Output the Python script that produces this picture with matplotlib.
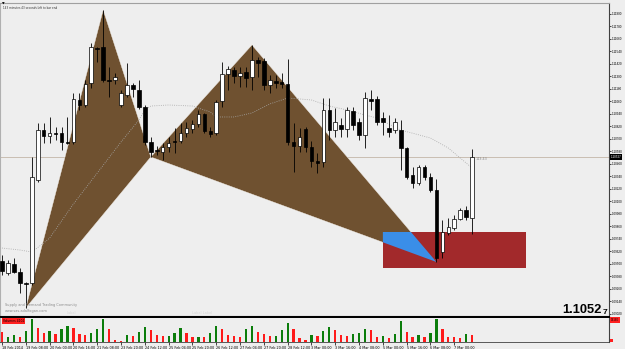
import matplotlib.pyplot as plt
from matplotlib.patches import Polygon, Rectangle

# 4H candles, 18 Feb 2014 - 7 Mar 2014
opens = [1.09528, 1.09413, 1.09500, 1.09422, 1.09317, 1.09317, 1.10306, 1.10786, 1.10728, 1.10757,
         1.10757, 1.10671, 1.10671, 1.11074, 1.11026, 1.11237, 1.11573, 1.11583, 1.11266, 1.11266,
         1.11026, 1.11122, 1.11218, 1.11170, 1.11007, 1.10671, 1.10594, 1.10575, 1.10623, 1.10680,
         1.10680, 1.10757, 1.10796, 1.10844, 1.10940, 1.10776, 1.10757, 1.11064, 1.11324, 1.11362,
         1.11304, 1.11343, 1.11295, 1.11458, 1.11448, 1.11218, 1.11256, 1.11247, 1.11228, 1.10671,
         1.10632, 1.10796, 1.10623, 1.10488, 1.10479, 1.10978, 1.10786, 1.10834, 1.10796, 1.10968,
         1.10863, 1.10738, 1.11084, 1.11084, 1.10901, 1.10805, 1.10786, 1.10786, 1.10613, 1.10354,
         1.10278, 1.10431, 1.10335, 1.10210, 1.09615, 1.09798, 1.09846, 1.09932, 1.10018, 1.09941]
highs = [1.09586, 1.09538, 1.09557, 1.09461, 1.09327, 1.10527, 1.10853, 1.10853, 1.10911, 1.10815,
         1.10815, 1.10911, 1.11141, 1.11141, 1.11266, 1.11621, 1.11583, 1.11938, 1.11391, 1.11333,
         1.11170, 1.11429, 1.11237, 1.11266, 1.11026, 1.10719, 1.10632, 1.10661, 1.10719, 1.10805,
         1.10853, 1.10863, 1.10882, 1.10978, 1.10949, 1.10815, 1.11074, 1.11439, 1.11400, 1.11391,
         1.11391, 1.11391, 1.11602, 1.11487, 1.11477, 1.11314, 1.11314, 1.11333, 1.11468, 1.10853,
         1.10805, 1.10815, 1.10680, 1.10565, 1.11093, 1.11093, 1.10997, 1.10901, 1.11007, 1.11007,
         1.10901, 1.11151, 1.11170, 1.11112, 1.10959, 1.10930, 1.10901, 1.10882, 1.10623, 1.10431,
         1.10450, 1.10450, 1.10373, 1.10316, 1.09922, 1.09941, 1.09970, 1.10038, 1.10058, 1.10604]
lows = [1.09394, 1.09394, 1.09413, 1.09222, 1.09078, 1.09298, 1.10287, 1.10661, 1.10661, 1.10690,
        1.10594, 1.10652, 1.10652, 1.10978, 1.11007, 1.11189, 1.11439, 1.11247, 1.11103, 1.11228,
        1.11007, 1.11103, 1.11103, 1.10988, 1.10642, 1.10527, 1.10546, 1.10498, 1.10575, 1.10565,
        1.10661, 1.10719, 1.10757, 1.10815, 1.10757, 1.10719, 1.10738, 1.11007, 1.11170, 1.11237,
        1.11199, 1.11199, 1.11170, 1.11295, 1.11170, 1.11141, 1.11189, 1.11189, 1.10642, 1.10383,
        1.10575, 1.10575, 1.10431, 1.10373, 1.10431, 1.10690, 1.10719, 1.10719, 1.10719, 1.10786,
        1.10690, 1.10613, 1.10978, 1.10834, 1.10738, 1.10719, 1.10757, 1.10402, 1.10316, 1.10230,
        1.10258, 1.10306, 1.10191, 1.09519, 1.09557, 1.09778, 1.09826, 1.09922, 1.09922, 1.09788]
closes = [1.09432, 1.09509, 1.09422, 1.09317, 1.09308, 1.10335, 1.10786, 1.10728, 1.10757, 1.10748,
          1.10671, 1.10661, 1.11084, 1.11026, 1.11228, 1.11583, 1.11564, 1.11266, 1.11256, 1.11295,
          1.11141, 1.11218, 1.11180, 1.11007, 1.10671, 1.10575, 1.10584, 1.10623, 1.10661, 1.10671,
          1.10757, 1.10805, 1.10844, 1.10940, 1.10776, 1.10748, 1.11055, 1.11324, 1.11372, 1.11304,
          1.11333, 1.11285, 1.11458, 1.11429, 1.11218, 1.11266, 1.11237, 1.11228, 1.10671, 1.10632,
          1.10719, 1.10623, 1.10488, 1.10469, 1.10978, 1.10786, 1.10863, 1.10796, 1.10978, 1.10834,
          1.10738, 1.11093, 1.11064, 1.10863, 1.10863, 1.10767, 1.10863, 1.10613, 1.10335, 1.10278,
          1.10431, 1.10335, 1.10210, 1.09557, 1.09807, 1.09855, 1.09932, 1.10018, 1.09951, 1.10527]

volumes = [5900, 2950, 4130, 2950, 6490, 13570, 8260, 5310, 6490, 4720,
           7670, 9440, 8260, 4720, 4130, 5310, 7670, 13570, 7670, 1180,
           590, 4130, 3540, 5900, 8850, 7080, 4130, 3540, 3540, 5310,
           8260, 5310, 2950, 2950, 2950, 5310, 9440, 7670, 4130, 3540,
           2950, 7670, 9440, 5900, 4720, 3540, 3540, 7080, 11210, 7670,
           2360, 1180, 4130, 3540, 6490, 8850, 7080, 4130, 3540, 4720,
           5310, 7670, 7080, 2950, 3540, 2360, 4720, 12390, 5900, 2950,
           4130, 2950, 5310, 13570, 7670, 2950, 2950, 2360, 4720, 4102]
vol_colors = ("rggrggrrgrggrrrgggrrrgrggrrrgggrrgrg"
              "grrrrggrrrgggrrrgrggrrrgggrrgrggrrgrggrrrrgr")

# moving average (read at a few bars)
ma_idx = [0, 3, 5, 7, 8, 12, 16, 20, 23, 24, 25, 28, 32, 35, 36, 39, 42, 45,
          48, 50, 52, 55, 58, 61, 63, 67, 72, 75, 79]
ma_val = [1.09653, 1.09634, 1.09615, 1.09701, 1.09749, 1.10076, 1.10373, 1.10671,
          1.10882, 1.10978, 1.11016, 1.11026, 1.11016, 1.10959, 1.10911, 1.10911,
          1.10949, 1.11036, 1.11093, 1.11084, 1.11074, 1.11016, 1.10978, 1.10930,
          1.10901, 1.10786, 1.10709, 1.10613, 1.10421]

# harmonic pattern points (bar index) and demand zone
x_bar, a_bar, b_bar, c_bar, d_bar = 4, 17, 25, 42, 73
zone_left, zone_right = 64, 88
zone_top, zone_bottom = 1.09807, 1.09461

price_ticks = [1.09020, 1.09140, 1.09260, 1.09380, 1.09500, 1.09620, 1.09740, 1.09860,
               1.09980, 1.10100, 1.10220, 1.10340, 1.10460, 1.10580, 1.10700, 1.10820,
               1.10940, 1.11060, 1.11180, 1.11300, 1.11420, 1.11540, 1.11660, 1.11780, 1.11900]
time_ticks = [0, 4, 8, 12, 16, 20, 24, 28, 32, 36, 40, 44, 48, 52, 56, 60, 64, 68, 72, 76]
time_labels = ["18 Feb 2014", "19 Feb 08:00", "20 Feb 00:00", "20 Feb 16:00", "21 Feb 08:00",
               "23 Feb 20:00", "24 Feb 12:00", "25 Feb 04:00", "25 Feb 20:00", "26 Feb 12:00",
               "27 Feb 04:00", "27 Feb 20:00", "28 Feb 12:00", "3 Mar 00:00", "3 Mar 16:00",
               "4 Mar 08:00", "5 Mar 00:00", "5 Mar 16:00", "6 Mar 08:00", "7 Mar 00:00"]

bg = '#eeeeee'
fig = plt.figure(figsize=(6.25, 3.49), dpi=100, facecolor=bg)
ax = fig.add_axes([0, 0.0917, 0.9744, 0.8997], facecolor=bg)
axv = fig.add_axes([0, 0.0201, 0.9744, 0.0688], facecolor=bg, sharex=ax)

n = len(closes)
X = (x_bar, lows[x_bar]); A = (a_bar, highs[a_bar]); B = (b_bar, lows[b_bar])
C = (c_bar, highs[c_bar]); D = (d_bar, lows[d_bar])
brown = '#6f5130'
ax.add_patch(Polygon([X, A, B], closed=True, fc=brown, ec='#f4f0ea', lw=0.3, zorder=1))
ax.add_patch(Polygon([B, C, D], closed=True, fc=brown, ec='#f4f0ea', lw=0.3, zorder=1))
ax.add_patch(Rectangle((zone_left, zone_bottom), zone_right - zone_left, zone_top - zone_bottom,
                       fc='#a2292b', ec='none', zorder=1.2))
# part of the BCD triangle inside the zone
t = (C[1] - zone_top) / (C[1] - D[1])
xcd = C[0] + t * (D[0] - C[0])
t = (zone_left - B[0]) / (D[0] - B[0])
ybd = B[1] + t * (D[1] - B[1])
ax.add_patch(Polygon([(zone_left, zone_top), (xcd, zone_top), D, (zone_left, ybd)],
                     closed=True, fc='#3a8ee8', ec='none', zorder=1.4))

ax.axhline(closes[-1], color='#c9beb2', lw=0.7, zorder=0.5)
ax.plot(ma_idx, ma_val, color='#a8a8a8', lw=0.6, ls=':', zorder=2)

for i in range(n):
    o, h, l, c = opens[i], highs[i], lows[i], closes[i]
    ax.vlines(i, l, h, color='black', lw=0.6, zorder=3)
    lo = min(o, c)
    hgt = max(abs(c - o), 0.00003)
    fc = 'white' if c > o else 'black'
    ax.add_patch(Rectangle((i - 0.3, lo), 0.6, hgt, fc=fc, ec='black', lw=0.5, zorder=4))

ax.set_xlim(-0.34, 102.0)
ax.set_ylim(1.08991, 1.12005)
ax.yaxis.tick_right()
ax.set_yticks(price_ticks)
ax.set_yticklabels([f"{v:.5f}" for v in price_ticks], family='Liberation Sans')
ax.tick_params(axis='y', length=1.5, width=0.5, labelsize=2.2, pad=0.8)
ax.tick_params(axis='x', bottom=False, labelbottom=False)
ax.spines['top'].set_color('#a0a0a0')
ax.spines['left'].set_color('#b0b0b0')
ax.spines['right'].set_color('#404040')
ax.spines['right'].set_linewidth(0.8)
ax.spines['bottom'].set_color('black')
ax.spines['bottom'].set_linewidth(1.5)

ax.text(1.003, closes[-1], f"{closes[-1]:.5f}", transform=ax.get_yaxis_transform(),
        fontsize=2.2, family='Liberation Sans', color='white', va='center', ha='left',
        bbox=dict(fc='black', ec='none', pad=0.5))
ax.text(n - 0.4, closes[-1], "143:43", fontsize=2.4, color='#888888', va='top', ha='left')

# volumes
vcol = {'g': '#0b7d0b', 'r': '#ff1a1a'}
axv.bar(range(n), volumes, width=0.38, color=[vcol[k] for k in vol_colors], zorder=2)
vol_top = 14160
axv.set_ylim(0, vol_top)
axv.set_yticks([])
axv.set_xticks(time_ticks)
axv.set_xticklabels(time_labels, ha='left', fontsize=2.4)
axv.tick_params(axis='x', length=2, width=0.5, pad=0.8)
axv.spines['top'].set_visible(False)
axv.spines['left'].set_color('#b0b0b0')
axv.spines['right'].set_color('#404040')
axv.spines['right'].set_linewidth(0.8)
axv.spines['bottom'].set_color('#404040')
axv.spines['bottom'].set_linewidth(0.6)

fig.text(3 / 625, 1 - 321 / 349, f"Volumes {volumes[-1]}", fontsize=2.2, color='black',
         va='center', bbox=dict(fc='#ff2020', ec='none', pad=0.5))
fig.text(611 / 625, 1 - 320 / 349, f"{vol_top}", fontsize=2.0, family='Liberation Sans',
         color='black', va='center', bbox=dict(fc='#ff2020', ec='none', pad=0.5))
fig.add_artist(Rectangle((610 / 625, 1 - 342 / 349), 2.5 / 625, 3 / 349,
                         transform=fig.transFigure, fc='#ff2020', ec='none'))

# texts on the chart
fig.text(2 / 625, 1 - 4 / 349, '\u25bc', fontsize=2.5, color='black', va='center')
fig.text(3 / 625, 1 - 8 / 349, "143 minutes 43 seconds left to bar end", fontsize=2.0,
         color='#333333', va='center')
fig.text(5 / 625, 1 - 305 / 349, "Supply and Demand Trading Community", fontsize=2.5,
         color='#8a8a8a', va='center')
fig.text(5 / 625, 1 - 311 / 349, "www.sas.adalfogan.com", fontsize=2.5,
         color='#8a8a8a', va='center')
fig.text(67 / 625, 1 - 313 / 349, "Label", fontsize=2.5, color='#d6d6d6', va='center')
fig.text(192 / 625, 1 - 313 / 349, "Label Label", fontsize=2.5, color='#d6d6d6', va='center')

last = f"{closes[-1]:.5f}"
fig.text(602 / 625, 1 - 313 / 349, last[:-1], fontsize=9.3, fontweight='bold',
         family='Liberation Sans', ha='right', va='baseline')
fig.text(603 / 625, 1 - 314 / 349, last[-1], fontsize=6, fontweight='bold',
         family='Liberation Sans', ha='left', va='baseline')

plt.savefig("out.png", dpi=100, facecolor=bg)
